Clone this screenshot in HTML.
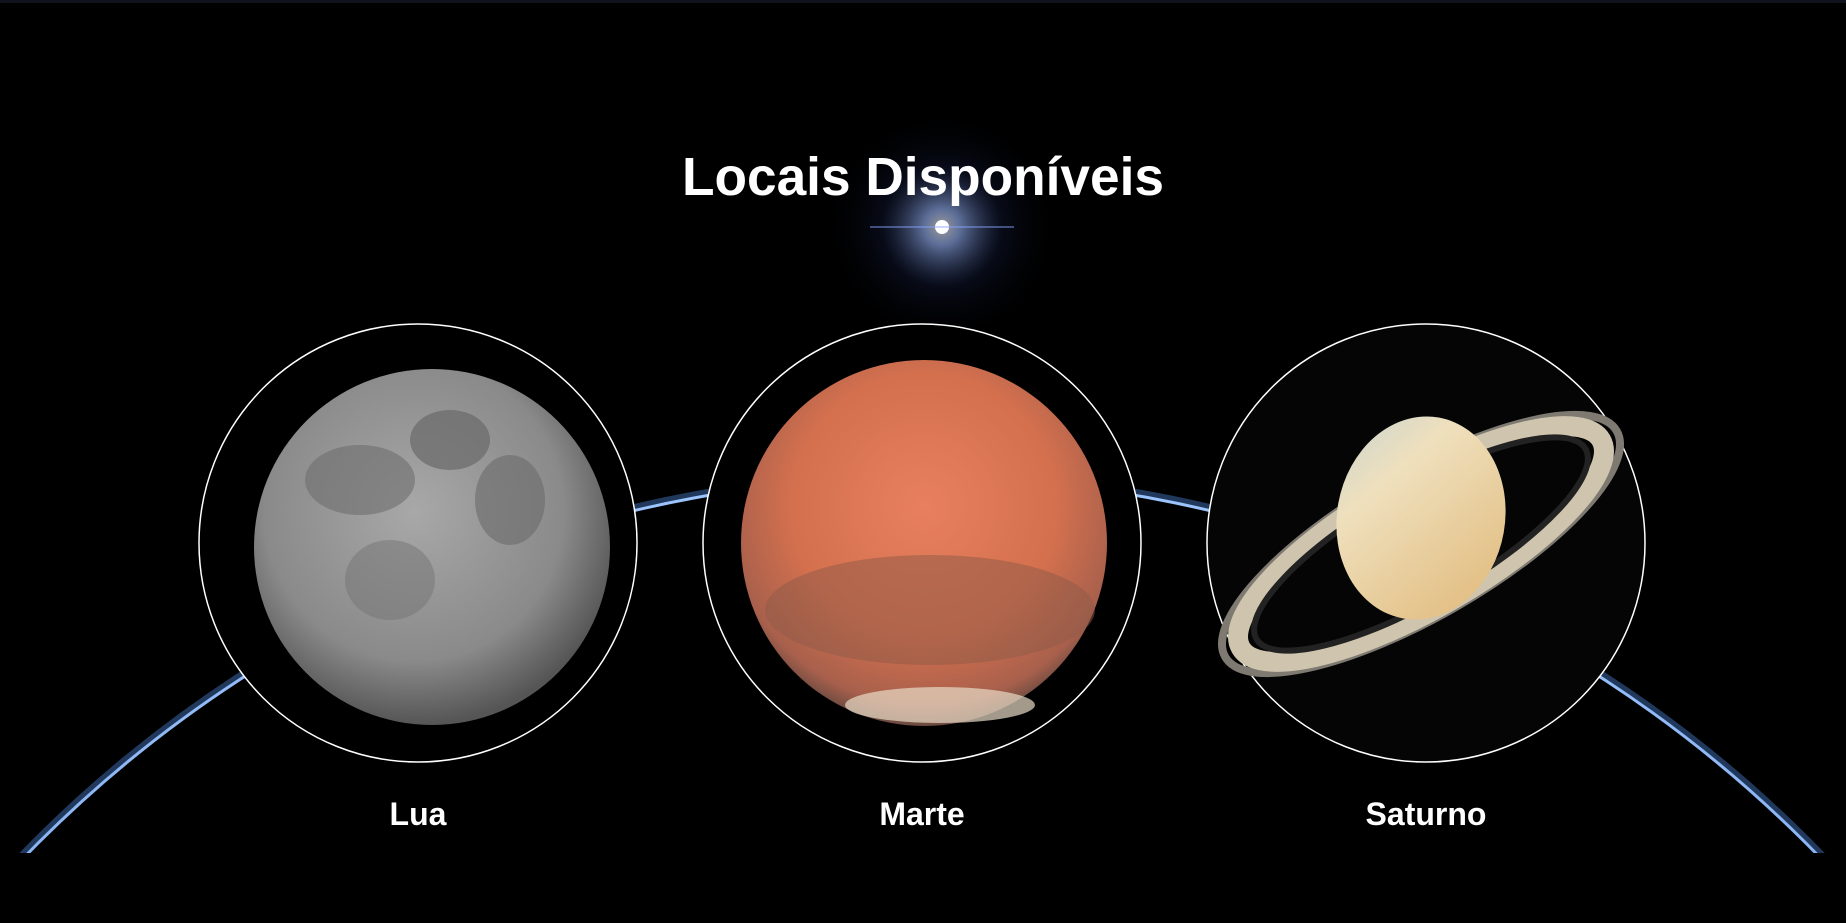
<!DOCTYPE html>
<html><head><meta charset="utf-8"><style>
html,body{margin:0;padding:0;background:#000;width:1846px;height:923px;overflow:hidden;}
svg{display:block}
text{font-family:"Liberation Sans",sans-serif;font-weight:bold;fill:#fff}
</style></head><body>
<svg width="1846" height="923" viewBox="0 0 1846 923">
<defs>
<radialGradient id="glow" cx="0.5" cy="0.5" r="0.5"><stop offset="0" stop-color="#fff"/><stop offset="0.15" stop-color="#9bb8ff"/><stop offset="0.5" stop-color="#1a2550" stop-opacity="0.5"/><stop offset="1" stop-color="#000" stop-opacity="0"/></radialGradient>
<radialGradient id="moon" cx="0.45" cy="0.4" r="0.6"><stop offset="0" stop-color="#a8a8a8"/><stop offset="0.7" stop-color="#8a8a8a"/><stop offset="1" stop-color="#555"/></radialGradient>
<radialGradient id="mars" cx="0.5" cy="0.4" r="0.6"><stop offset="0" stop-color="#e8805e"/><stop offset="0.6" stop-color="#d4704e"/><stop offset="0.9" stop-color="#a8604c"/><stop offset="1" stop-color="#6a4a40"/></radialGradient>
<linearGradient id="sat" x1="0" y1="0" x2="1" y2="1"><stop offset="0" stop-color="#c9d4d0"/><stop offset="0.3" stop-color="#efe0bd"/><stop offset="1" stop-color="#e0b878"/></linearGradient>
<linearGradient id="rim" x1="0" y1="0" x2="0" y2="1"><stop offset="0" stop-color="#9cc4ff"/><stop offset="1" stop-color="#2a5aa8"/></linearGradient>
</defs>
<rect width="1846" height="923" fill="#000"/>
<rect width="1846" height="3" fill="#10121e"/>
<circle cx="922" cy="1727" r="1253" fill="none" stroke="#3f6fb8" stroke-width="7" opacity="0.5"/>
<circle cx="922" cy="1727" r="1250" fill="#000" stroke="url(#rim)" stroke-width="3"/>
<rect y="853" width="1846" height="70" fill="#000"/>
<circle cx="942" cy="227" r="120" fill="url(#glow)" opacity="0.6"/>
<circle cx="942" cy="227" r="7" fill="#fff"/>
<line x1="870" y1="227" x2="1014" y2="227" stroke="#8aa6ff" stroke-width="1.5" opacity="0.6"/>
<text x="923" y="195" font-size="54" text-anchor="middle" textLength="482" lengthAdjust="spacingAndGlyphs">Locais Disponíveis</text>

<g>
<circle cx="418" cy="543" r="219" fill="#000" stroke="#fff" stroke-width="1.5"/>
<circle cx="432" cy="547" r="178" fill="url(#moon)"/>
<ellipse cx="450" cy="440" rx="40" ry="30" fill="#6a6a6a" opacity="0.7"/>
<ellipse cx="360" cy="480" rx="55" ry="35" fill="#6e6e6e" opacity="0.6"/>
<ellipse cx="510" cy="500" rx="35" ry="45" fill="#6a6a6a" opacity="0.6"/>
<ellipse cx="390" cy="580" rx="45" ry="40" fill="#737373" opacity="0.5"/>
<text x="418" y="825" font-size="32" text-anchor="middle">Lua</text>
</g>

<g>
<circle cx="922" cy="543" r="219" fill="#000" stroke="#fff" stroke-width="1.5"/>
<circle cx="924" cy="543" r="183" fill="url(#mars)"/>
<ellipse cx="930" cy="610" rx="165" ry="55" fill="#8e5a48" opacity="0.5"/>
<ellipse cx="940" cy="705" rx="95" ry="18" fill="#e8dcc8" opacity="0.7"/>
<text x="922" y="825" font-size="32" text-anchor="middle">Marte</text>
</g>

<g>
<circle cx="1426" cy="543" r="219" fill="#050505" stroke="#fff" stroke-width="1.5"/>
<g transform="rotate(-30 1421 544)">
<ellipse cx="1421" cy="544" rx="226" ry="72" fill="none" stroke="#7e7a72" stroke-width="8"/>
<ellipse cx="1421" cy="544" rx="208" ry="64" fill="none" stroke="#cfc5ae" stroke-width="20"/>
<ellipse cx="1421" cy="544" rx="190" ry="56" fill="none" stroke="#222" stroke-width="6"/>
</g>
<ellipse cx="1421" cy="518" rx="84" ry="102" transform="rotate(10 1421 518)" fill="url(#sat)"/>
<text x="1426" y="825" font-size="32" text-anchor="middle">Saturno</text>
</g>
</svg>
</body></html>
